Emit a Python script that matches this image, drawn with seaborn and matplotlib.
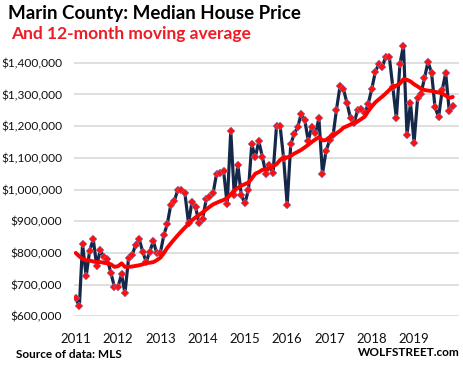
import seaborn as sns
import matplotlib.pyplot as plt
import matplotlib.dates as mdates
import matplotlib.ticker as mticker
import pandas as pd

# monthly median price, Jan 2011 - Dec 2019 ($ thousands)
price_k = [
    657, 631, 828, 726, 807, 843, 760, 809, 786, 780, 736, 693,
    693, 733, 672, 783, 792, 825, 845, 804, 771, 804, 837, 799,
    801, 858, 890, 952, 963, 1000, 1000, 988, 893, 962, 945, 893,
    908, 969, 975, 988, 1049, 1051, 1058, 953, 1185, 982, 1077, 982,
    956, 1000, 1142, 1102, 1152, 1103, 1050, 1077, 1051, 1200, 1200, 1100,
    952, 1143, 1175, 1197, 1238, 1219, 1154, 1198, 1177, 1224, 1050, 1120,
    1155, 1172, 1250, 1325, 1317, 1272, 1225, 1209, 1252, 1254, 1240, 1270,
    1318, 1372, 1395, 1386, 1419, 1419, 1324, 1225, 1396, 1454, 1173, 1273,
    1148, 1290, 1301, 1351, 1403, 1368, 1259, 1229, 1314, 1367, 1247, 1263,
]

ma12_k = [
    800, 789, 781, 777, 776, 773, 771, 771, 769, 767, 764, 756,
    758, 767, 756, 756, 757, 759, 761, 764, 768, 769, 771, 777,
    785, 800, 816, 830, 843, 856, 868, 880, 891, 903, 912, 920,
    928, 937, 945, 953, 958, 963, 967, 973, 985, 997, 1005, 1012,
    1017, 1022, 1035, 1050, 1055, 1062, 1064, 1066, 1073, 1080, 1093, 1100,
    1101, 1106, 1113, 1119, 1125, 1133, 1141, 1150, 1158, 1165, 1155, 1156,
    1165, 1172, 1177, 1185, 1195, 1200, 1205, 1210, 1215, 1222, 1230, 1247,
    1262, 1275, 1284, 1293, 1303, 1314, 1324, 1328, 1334, 1348, 1346, 1341,
    1332, 1325, 1318, 1314, 1312, 1311, 1308, 1306, 1303, 1296, 1289, 1292,
]

months = pd.date_range("2011-01-01", periods=len(price_k), freq="MS")
years = list(range(2011, 2020))

df = pd.DataFrame({
    "month": months,
    "price": [v * 1000 for v in price_k],
    "ma12": [v * 1000 for v in ma12_k],
})

sns.set_style("white")
plt.rcParams["font.family"] = ["Lato", "DejaVu Sans"]

fig = plt.figure(figsize=(4.64, 3.71), dpi=100)
ax = fig.add_axes([74 / 464, 0.1474, 385 / 464, 0.7434])

sns.lineplot(data=df, x="month", y="price", ax=ax, color="#15284a",
             linewidth=2.3, marker="D", markersize=3.6,
             markerfacecolor="#ff1010", markeredgecolor="#7080c0",
             markeredgewidth=0.35, zorder=3)
sns.lineplot(data=df, x="month", y="ma12", ax=ax, color="#ff0000",
             linewidth=2.8, zorder=4)

ax.set_ylim(600000, 1470000)
ax.set_yticks(range(600000, 1400001, 100000))
ax.yaxis.set_major_formatter(mticker.FuncFormatter(lambda v, p: "${:,.0f}".format(v)))
ax.set_xlim(pd.Timestamp("2010-12-17"), pd.Timestamp("2020-01-24"))
ax.set_xticks([pd.Timestamp(f"{y}-01-01") for y in years])
ax.xaxis.set_major_formatter(mdates.DateFormatter("%Y"))

ax.grid(axis="y", color="#d9d9d9", linewidth=1.2)
ax.grid(axis="x", visible=False)
for s in ax.spines.values():
    s.set_visible(False)
ax.tick_params(axis="both", length=0, colors="#111111")
ax.tick_params(axis="y", pad=8.5, labelsize=8.6)
ax.tick_params(axis="x", pad=12, labelsize=9.5)
ax.set_xlabel("")
ax.set_ylabel("")

fig.text(8 / 464, 1 - 14 / 371, "Marin County: Median House Price",
         fontsize=13.5, fontweight="bold", color="black", va="center", ha="left")
fig.text(11 / 464, 1 - 34 / 371, "And 12-month moving average",
         fontsize=12.5, fontweight="bold", color="#ee1c25", va="center", ha="left")
fig.text(16 / 464, 1 - 354 / 371, "Source of data: MLS",
         fontsize=8.5, fontweight="bold", color="black", va="center", ha="left")
fig.text(460 / 464, 1 - 353 / 371, "WOLFSTREET.com",
         fontsize=8.5, fontweight="bold", color="black", va="center", ha="right")

fig.savefig("out.png", dpi=100)
